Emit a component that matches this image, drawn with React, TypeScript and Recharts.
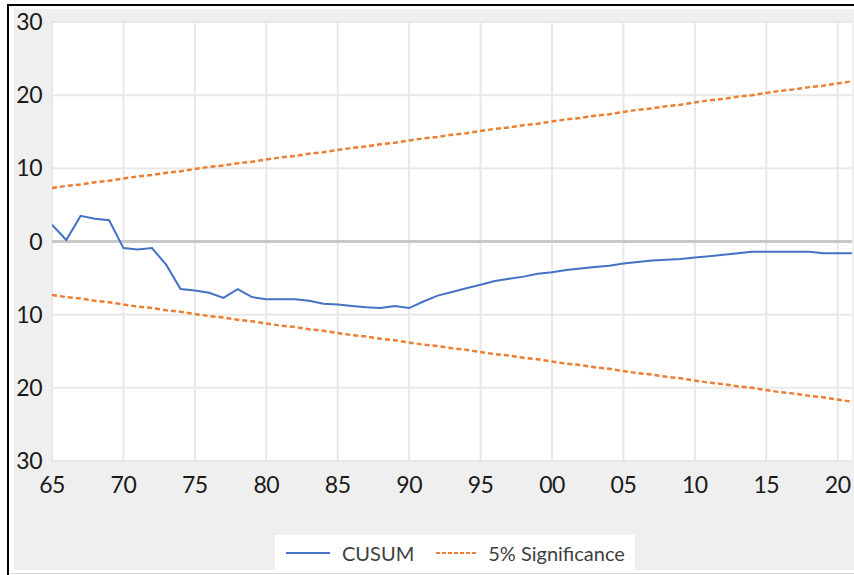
import React from 'react';
import { LineChart, Line, XAxis, YAxis, CartesianGrid, ReferenceLine } from 'recharts';

const years = [
  1965, 1966, 1967, 1968, 1969, 1970, 1971, 1972, 1973, 1974,
  1975, 1976, 1977, 1978, 1979, 1980, 1981, 1982, 1983, 1984,
  1985, 1986, 1987, 1988, 1989, 1990, 1991, 1992, 1993, 1994,
  1995, 1996, 1997, 1998, 1999, 2000, 2001, 2002, 2003, 2004,
  2005, 2006, 2007, 2008, 2009, 2010, 2011, 2012, 2013, 2014,
  2015, 2016, 2017, 2018, 2019, 2020, 2021,
];

const cusum = [
  2.3, 0.2, 3.5, 3.1, 2.9, -0.9, -1.1, -0.9, -3.2, -6.5,
  -6.7, -7.0, -7.7, -6.5, -7.6, -7.9, -7.9, -7.9, -8.1, -8.5,
  -8.6, -8.8, -9.0, -9.1, -8.8, -9.1, -8.2, -7.4, -6.9, -6.4,
  -5.9, -5.4, -5.1, -4.8, -4.4, -4.2, -3.9, -3.7, -3.5, -3.3,
  -3.0, -2.8, -2.6, -2.5, -2.4, -2.2, -2.0, -1.8, -1.6, -1.4,
  -1.4, -1.4, -1.4, -1.4, -1.6, -1.6, -1.6,
];

const upper5 = [
  7.3, 7.6, 7.8, 8.1, 8.3, 8.6, 8.9, 9.1, 9.4, 9.6,
  9.9, 10.2, 10.4, 10.7, 10.9, 11.2, 11.5, 11.7, 12.0, 12.2,
  12.5, 12.8, 13.0, 13.3, 13.5, 13.8, 14.1, 14.3, 14.6, 14.8,
  15.1, 15.4, 15.6, 15.9, 16.1, 16.4, 16.7, 16.9, 17.2, 17.4,
  17.7, 18.0, 18.2, 18.5, 18.7, 19.0, 19.3, 19.5, 19.8, 20.0,
  20.3, 20.6, 20.8, 21.1, 21.3, 21.6, 21.9,
];

const lower5 = [
  -7.3, -7.6, -7.8, -8.1, -8.3, -8.6, -8.9, -9.1, -9.4, -9.6,
  -9.9, -10.2, -10.4, -10.7, -10.9, -11.2, -11.5, -11.7, -12.0, -12.2,
  -12.5, -12.8, -13.0, -13.3, -13.5, -13.8, -14.1, -14.3, -14.6, -14.8,
  -15.1, -15.4, -15.6, -15.9, -16.1, -16.4, -16.7, -16.9, -17.2, -17.4,
  -17.7, -18.0, -18.2, -18.5, -18.7, -19.0, -19.3, -19.5, -19.8, -20.0,
  -20.3, -20.6, -20.8, -21.1, -21.3, -21.6, -21.9,
];

const xTicks = [1965, 1970, 1975, 1980, 1985, 1990, 1995, 2000, 2005, 2010, 2015, 2020];
const yTicks = [-30, -20, -10, 0, 10, 20, 30];

const seriesNames = { cusum: 'CUSUM', sig: '5% Significance' };

const data = years.map((y, i) => ({
  year: y,
  cusum: cusum[i],
  upper: upper5[i],
  lower: lower5[i],
}));

const BLUE = '#4472C4';
const ORANGE = '#ED7D31';
const FONT = 'Lato, "Open Sans", sans-serif';

export default function App() {
  return (
    <div
      style={{
        position: 'absolute',
        left: 0,
        top: 0,
        width: 854,
        height: 575,
        background: '#ffffff',
        overflow: 'hidden',
        fontFamily: FONT,
      }}
    >
      <div
        style={{
          position: 'absolute',
          left: 7,
          top: 4,
          width: 870,
          height: 580,
          borderLeft: '2px solid #000',
          borderTop: '2px solid #000',
        }}
      />
      <div
        style={{
          position: 'absolute',
          left: 14,
          top: 9,
          width: 850,
          height: 561,
          background: '#efefef',
        }}
      />
      <div
        style={{
          position: 'absolute',
          left: 9,
          top: 573,
          width: 850,
          height: 1,
          background: '#dddddd',
        }}
      />
      <div style={{ position: 'absolute', left: 0, top: 0 }}>
        <LineChart
          width={854}
          height={575}
          data={data}
          margin={{ top: 22, right: 2, bottom: 74, left: 0 }}
        >
          <CartesianGrid
            fill="#ffffff"
            stroke="#e8e8e8"
            strokeWidth={2}
            horizontalValues={yTicks}
            verticalValues={xTicks}
          />
          <XAxis
            dataKey="year"
            type="number"
            domain={[1965, 2021]}
            ticks={xTicks}
            allowDataOverflow
            axisLine={false}
            tickLine={false}
            tickSize={0}
            tickMargin={16}
            height={40}
            interval={0}
            tickFormatter={(v: number) => String(v % 100).padStart(2, '0')}
            tick={{ fill: '#1a1a1a', fontSize: 23, fontFamily: FONT, letterSpacing: -0.5 }}
          />
          <YAxis
            type="number"
            domain={[-30, 30]}
            ticks={yTicks}
            axisLine={false}
            tickLine={false}
            tickSize={0}
            tickMargin={10}
            width={52}
            interval={0}
            tickFormatter={(v: number) => String(Math.abs(v))}
            tick={{ fill: '#1a1a1a', fontSize: 23, fontFamily: FONT, letterSpacing: -0.5 }}
          />
          <ReferenceLine y={0} stroke="#c8c8c8" strokeWidth={3} />
          <Line
            type="linear"
            dataKey="upper"
            name={seriesNames.sig}
            stroke={ORANGE}
            strokeWidth={2.5}
            strokeDasharray="5 3"
            dot={false}
            isAnimationActive={false}
          />
          <Line
            type="linear"
            dataKey="lower"
            name={seriesNames.sig}
            stroke={ORANGE}
            strokeWidth={2.5}
            strokeDasharray="5 3"
            dot={false}
            isAnimationActive={false}
          />
          <Line
            type="linear"
            dataKey="cusum"
            name={seriesNames.cusum}
            stroke={BLUE}
            strokeWidth={2}
            dot={false}
            isAnimationActive={false}
          />
        </LineChart>
      </div>
      <div
        style={{
          position: 'absolute',
          left: 275,
          top: 535,
          width: 360,
          height: 35,
          background: '#ffffff',
          display: 'flex',
          alignItems: 'center',
          fontSize: 20,
          color: '#404040',
        }}
      >
        <svg width={44} height={4} style={{ marginLeft: 11 }}>
          <line x1={0} y1={2} x2={44} y2={2} stroke={BLUE} strokeWidth={2} />
        </svg>
        <span style={{ marginLeft: 12 }}>{seriesNames.cusum}</span>
        <svg width={40} height={4} style={{ marginLeft: 22 }}>
          <line x1={0} y1={2} x2={40} y2={2} stroke={ORANGE} strokeWidth={2} strokeDasharray="4 2" />
        </svg>
        <span style={{ marginLeft: 12 }}>{seriesNames.sig}</span>
      </div>
    </div>
  );
}
